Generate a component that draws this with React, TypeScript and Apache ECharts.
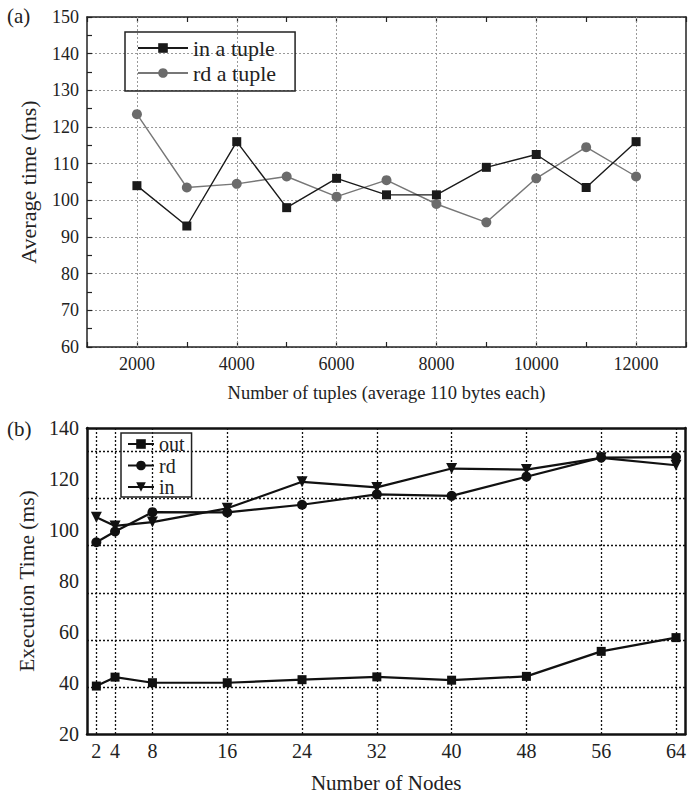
import React, { useEffect, useRef } from "react";
import * as echarts from "echarts";

const tupleCounts = [2000, 3000, 4000, 5000, 6000, 7000, 8000, 9000, 10000, 11000, 12000];
const inTuple = [104, 93, 116, 98, 106, 101.5, 101.5, 109, 112.5, 103.5, 116];
const rdTuple = [123.5, 103.5, 104.5, 106.5, 101, 105.5, 99, 94, 106, 114.5, 106.5];
const tupleGridX = [2000, 4000, 6000, 8000, 10000, 12000];

const nodes = [2, 4, 8, 16, 24, 32, 40, 48, 56, 64];
const outTimes = [38.8, 42.3, 40.1, 40.1, 41.3, 42.4, 41.1, 42.6, 52.4, 57.8];
const rdTimes = [95.2, 99.4, 107, 106.9, 109.9, 114, 113.4, 120.9, 128.4, 128.6];
const inTimes = [105, 101.6, 103.1, 108.5, 118.9, 116.7, 124.1, 123.7, 128.3, 125.4];
const nodeTicks = [2, 4, 8, 16, 24, 32, 40, 48, 56, 64];
const execYTicks = [20, 40, 60, 80, 100, 120, 140];

const FONT = "'Liberation Serif', 'Times New Roman', serif";

export default function App() {
  const ref = useRef<HTMLDivElement>(null);
  useEffect(() => {
    if (!ref.current) return;
    const chart = echarts.init(ref.current, null, { renderer: "svg" });
    // offset grid lines of panel (b) (evenly spaced, not aligned to labels)
    const bGridY: number[] = [];
    for (let k = 1; k <= 6; k++) bGridY.push(20 + (k * 120) / 6.5);

    const axisTxt = { fontFamily: FONT, fontSize: 18, color: "#222" };
    const axisTxtB = { fontFamily: FONT, fontSize: 20, color: "#222" };

    const option: any = {
      animation: false,
      backgroundColor: "#fff",
      textStyle: { fontFamily: FONT },
      graphic: [
        { type: "text", left: 7, top: 5, style: { text: "(a)", font: `21px ${FONT}`, fill: "#222" } },
        { type: "text", left: 7, top: 418, style: { text: "(b)", font: `21px ${FONT}`, fill: "#222" } },
      ],
      grid: [
        { left: 87, top: 17, width: 601, height: 330 },
        { left: 87, top: 428, width: 601, height: 307 },
      ],
      legend: [
        {
          data: ["in a tuple", "rd a tuple"],
          orient: "vertical",
          left: 125,
          top: 32,
          itemWidth: 50,
          itemHeight: 12,
          itemGap: 3,
          padding: [5, 19, 7, 12],
          borderColor: "#222",
          borderWidth: 1.5,
          textStyle: { fontFamily: FONT, fontSize: 22, color: "#222", lineHeight: 22 },
        },
        {
          data: ["out", "rd", "in"],
          orient: "vertical",
          left: 121,
          top: 433,
          itemWidth: 26,
          itemHeight: 12,
          itemGap: 1.5,
          padding: [1, 7, 0, 6],
          borderColor: "#222",
          borderWidth: 1.5,
          textStyle: { fontFamily: FONT, fontSize: 20, color: "#222", lineHeight: 19 },
        },
      ],
      xAxis: [
        {
          gridIndex: 0,
          type: "value",
          min: 1000,
          max: 13000,
          interval: 1000,
          name: "Number of tuples (average 110 bytes each)",
          nameLocation: "middle",
          nameGap: 36,
          nameTextStyle: { ...axisTxt, fontSize: 18.5 },
          axisLine: { lineStyle: { color: "#222", width: 1.5 } },
          axisTick: { inside: true, length: 5, lineStyle: { color: "#222", width: 1.2 } },
          axisLabel: {
            ...axisTxt,
            margin: 8,
            formatter: (v: number) => (v % 2000 === 0 ? String(v) : ""),
          },
          splitLine: { show: false },
        },
        {
          gridIndex: 0,
          type: "value",
          position: "top",
          min: 1000,
          max: 13000,
          interval: 1000,
          axisLine: { lineStyle: { color: "#222", width: 1.5 } },
          axisTick: { inside: true, length: 5, lineStyle: { color: "#222", width: 1.2 } },
          axisLabel: { show: false },
          splitLine: { show: false },
        },
        {
          gridIndex: 1,
          type: "value",
          min: 1,
          max: 65,
          name: "Number of Nodes",
          nameLocation: "middle",
          nameGap: 38,
          nameTextStyle: { ...axisTxtB, fontSize: 21 },
          axisLine: { lineStyle: { color: "#111", width: 2.5 } },
          axisTick: { show: false },
          axisLabel: { ...axisTxtB, margin: 7, customValues: nodeTicks },
          splitLine: { show: false },
        },
        {
          gridIndex: 1,
          type: "value",
          position: "top",
          min: 1,
          max: 65,
          axisLine: { lineStyle: { color: "#111", width: 2.5 } },
          axisTick: { show: false },
          axisLabel: { show: false },
          splitLine: { show: false },
        },
      ],
      yAxis: [
        {
          gridIndex: 0,
          type: "value",
          min: 60,
          max: 150,
          interval: 10,
          name: "Average time (ms)",
          nameLocation: "middle",
          nameGap: 48,
          nameTextStyle: { ...axisTxt, fontSize: 22 },
          axisLine: { show: true, lineStyle: { color: "#222", width: 1.5 } },
          axisTick: { inside: true, length: 5, lineStyle: { color: "#222", width: 1.2 } },
          minorTick: { show: true, splitNumber: 2, length: 5, lineStyle: { color: "#222", width: 1.2 } },
          axisLabel: { ...axisTxt, margin: 8 },
          splitLine: { show: true, lineStyle: { color: "#999", width: 1, type: [2, 2] } },
        },
        {
          gridIndex: 0,
          type: "value",
          position: "right",
          min: 60,
          max: 150,
          interval: 10,
          axisLine: { show: true, lineStyle: { color: "#222", width: 1.5 } },
          axisTick: { show: false },
          axisLabel: { show: false },
          splitLine: { show: false },
        },
        {
          gridIndex: 1,
          type: "value",
          min: 20,
          max: 140,
          interval: 20,
          name: "Execution Time (ms)",
          nameLocation: "middle",
          nameGap: 48,
          nameTextStyle: { ...axisTxtB, fontSize: 21.5 },
          axisLine: { show: true, lineStyle: { color: "#111", width: 2.5 } },
          axisTick: { show: false },
          axisLabel: { ...axisTxtB, margin: 8, customValues: execYTicks },
          splitLine: { show: false },
        },
        {
          gridIndex: 1,
          type: "value",
          position: "right",
          min: 20,
          max: 140,
          interval: 20,
          axisLine: { show: true, lineStyle: { color: "#111", width: 2.5 } },
          axisTick: { show: false },
          axisLabel: { show: false },
          splitLine: { show: false },
        },
      ],
      series: [
        {
          name: "in a tuple",
          type: "line",
          xAxisIndex: 0,
          yAxisIndex: 0,
          data: tupleCounts.map((x, i) => [x, inTuple[i]]),
          symbol: "rect",
          symbolSize: 9,
          z: 4,
          itemStyle: { color: "#1a1a1a" },
          lineStyle: { color: "#1a1a1a", width: 1.4 },
          markLine: {
            silent: true,
            symbol: "none",
            z: 1,
            label: { show: false },
            lineStyle: { color: "#999", width: 1, type: [2, 2] },
            data: tupleGridX.map((x) => ({ xAxis: x })),
          },
        },
        {
          name: "rd a tuple",
          type: "line",
          xAxisIndex: 0,
          yAxisIndex: 0,
          data: tupleCounts.map((x, i) => [x, rdTuple[i]]),
          symbol: "circle",
          symbolSize: 10,
          z: 3,
          itemStyle: { color: "#6b6b6b" },
          lineStyle: { color: "#777", width: 1.4 },
        },
        {
          name: "out",
          type: "line",
          xAxisIndex: 2,
          yAxisIndex: 2,
          data: nodes.map((x, i) => [x, outTimes[i]]),
          symbol: "rect",
          symbolSize: 9,
          z: 4,
          itemStyle: { color: "#111" },
          lineStyle: { color: "#111", width: 2.2 },
          markLine: {
            silent: true,
            symbol: "none",
            z: 1,
            label: { show: false },
            lineStyle: { color: "#111", width: 1.3, type: [2, 2] },
            data: [
              ...nodeTicks.map((x) => ({ xAxis: x })),
              ...bGridY.map((y) => ({ yAxis: y })),
            ],
          },
        },
        {
          name: "rd",
          type: "line",
          xAxisIndex: 2,
          yAxisIndex: 2,
          data: nodes.map((x, i) => [x, rdTimes[i]]),
          symbol: "circle",
          symbolSize: 10,
          z: 4,
          itemStyle: { color: "#111" },
          lineStyle: { color: "#111", width: 2.2 },
        },
        {
          name: "in",
          type: "line",
          xAxisIndex: 2,
          yAxisIndex: 2,
          data: nodes.map((x, i) => [x, inTimes[i]]),
          symbol: "triangle",
          symbolRotate: 180,
          symbolSize: 11,
          z: 4,
          itemStyle: { color: "#111" },
          lineStyle: { color: "#111", width: 2.2 },
        },
      ],
    };
    chart.setOption(option);
    return () => chart.dispose();
  }, []);
  return (
    <div
      ref={ref}
      style={{ position: "fixed", left: 0, top: 0, width: 689, height: 794, background: "#fff" }}
    />
  );
}
